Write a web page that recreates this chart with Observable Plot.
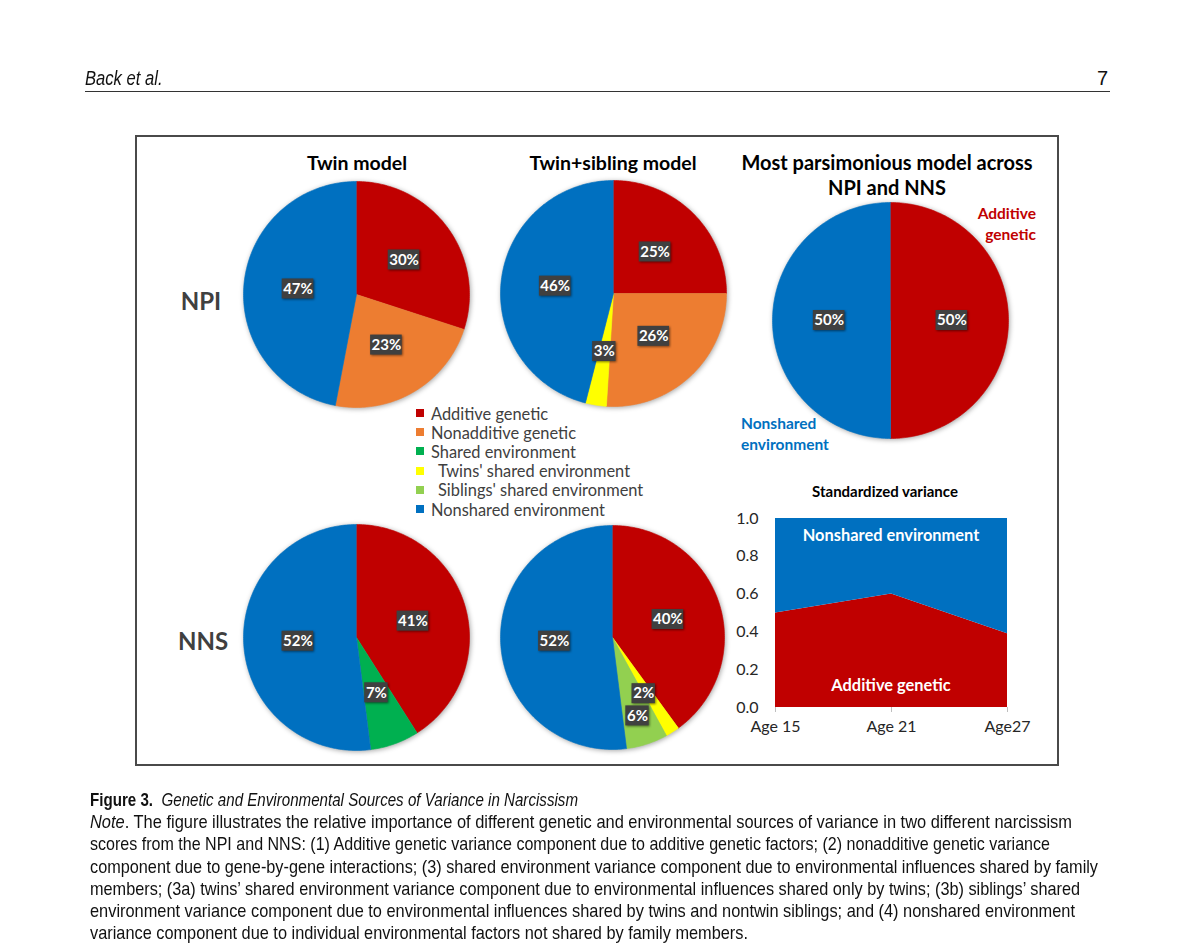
<!DOCTYPE html>
<html><head><meta charset="utf-8">
<script src="https://cdn.jsdelivr.net/npm/d3@7"></script>
<script src="https://cdn.jsdelivr.net/npm/@observablehq/plot@0.6"></script>
<style>
body{margin:0;background:#fff;width:1200px;height:950px;position:relative;overflow:hidden;font-family:Lato,sans-serif;}
.pie g[aria-label="line"]{filter:drop-shadow(1px 1.5px 2.5px rgba(0,0,0,0.35));}
.pie g[aria-label="rect"]{filter:drop-shadow(1px 1px 1px rgba(0,0,0,0.5));}
.area g[aria-label="x-axis tick"] path{stroke:#bfbfbf;}
.cap{position:absolute;left:90px;white-space:nowrap;font-family:"Liberation Sans",sans-serif;font-size:18.5px;line-height:22px;color:#111;transform-origin:0 50%;}
</style></head><body>
<script>
// ---- data ----
const components = ["Additive genetic","Nonadditive genetic","Shared environment","Twins' shared environment","Siblings' shared environment","Nonshared environment"];
const componentColors = ["#C00000","#ED7D31","#00B050","#FFFF00","#92D050","#0070C0"];
const pieTitles = ["Twin model","Twin+sibling model"];
const parsimoniousTitle = ["Most parsimonious model across","NPI and NNS"];
const rowLabels = ["NPI","NNS"];
const npiTwin      = [30,23,0,0,0,47];
const npiTwinSib   = [25,26,0,3,0,46];
const nnsTwin      = [41,0,7,0,0,52];
const nnsTwinSib   = [40,0,0,2,6,52];
const parsimonious = [50,0,0,0,0,50];
const ages = ["Age 15","Age 21","Age27"];
const additiveByAge  = [0.50,0.60,0.39];
const nonsharedByAge = [0.50,0.40,0.61];
const yTicks = [0,0.2,0.4,0.6,0.8,1.0];
const captionLines = [
 "<b>Figure 3.</b>&nbsp; <i>Genetic and Environmental Sources of Variance in Narcissism</i>",
 "<i>Note</i>. The figure illustrates the relative importance of different genetic and environmental sources of variance in two different narcissism",
 "scores from the NPI and NNS: (1) Additive genetic variance component due to additive genetic factors; (2) nonadditive genetic variance",
 "component due to gene-by-gene interactions; (3) shared environment variance component due to environmental influences shared by family",
 "members; (3a) twins’ shared environment variance component due to environmental influences shared only by twins; (3b) siblings’ shared",
 "environment variance component due to environmental influences shared by twins and nontwin siblings; and (4) nonshared environment",
 "variance component due to individual environmental factors not shared by family members."
];
// layout: right edge of each caption line in the page
const captionRight = [578,1072,1050,1098,1080,1075,748];

// ---- helpers ----
function el(tag, css, html){ const e=document.createElement(tag); e.style.cssText="position:absolute;"+css; if(html!=null) e.innerHTML=html; document.body.appendChild(e); return e; }
function label(text,x,y,o={}){
  const size=o.size||16, lh=Math.round(size*1.3), anchor=o.anchor||"middle", w=600;
  const left = anchor==="middle"? x-w/2 : anchor==="end"? x-w : x;
  const align = anchor==="middle"?"center":anchor==="end"?"right":"left";
  return el("div",`left:${left}px;top:${y-lh/2}px;width:${w}px;line-height:${lh}px;font-size:${size}px;text-align:${align};font-weight:${o.weight||"normal"};color:${o.color||"#000"};font-family:${o.font||"Lato"};font-style:${o.style||"normal"};white-space:pre;`, text);
}

// header
el("div","left:85px;top:66px;font-size:20px;line-height:24px;font-style:italic;font-family:'Liberation Sans';color:#111;white-space:nowrap;transform-origin:0 50%;transform:scaleX(0.83);","Back et al.");
label("7",1108,78,{anchor:"end",size:20,font:"'Liberation Sans'",color:"#111"});
el("div","left:85px;top:91px;width:1025px;height:0;border-top:1.5px solid #333;");
// frame
el("div","left:135px;top:135px;width:920px;height:627px;border:2px solid #4a4a4a;");

// ---- pies ----
function pie(values, R, nudges){
  nudges = nudges||{};
  const m = 12, total = d3.sum(values);
  let acc = 0; const pts=[], labels=[];
  values.forEach((v,i)=>{
    if(!v) return;
    const a0=acc/total*2*Math.PI, a1=(acc+v)/total*2*Math.PI; acc+=v;
    const n=Math.max(2,Math.ceil((a1-a0)/(Math.PI/180)));
    pts.push({cat:components[i],x:0,y:0});
    for(let k=0;k<=n;k++){const a=a0+(a1-a0)*k/n; pts.push({cat:components[i],x:Math.sin(a),y:Math.cos(a)});}
    const am=(a0+a1)/2, r=0.52, t=v+"%", nd=nudges[i]||[0,0];
    labels.push({text:t,x:r*Math.sin(am)+nd[0]/R,y:r*Math.cos(am)-nd[1]/R,hw:(t.length*8.2+7)/2/R,hh:10/R});
  });
  return Plot.plot({
    width:2*R+2*m,height:2*R+2*m,margin:m,
    x:{domain:[-1,1],axis:null},y:{domain:[-1,1],axis:null},
    color:{domain:components,range:componentColors},
    style:{background:"none",fontFamily:"Lato"},
    marks:[
      Plot.line(pts,{x:"x",y:"y",z:"cat",fill:"cat",stroke:"cat",strokeWidth:0.6,curve:"linear"}),
      Plot.rect(labels,{x1:d=>d.x-d.hw,x2:d=>d.x+d.hw,y1:d=>d.y-d.hh,y2:d=>d.y+d.hh,fill:"#404040"}),
      Plot.text(labels,{x:"x",y:"y",text:"text",fill:"white",fontWeight:"bold",fontSize:15})
    ]
  });
}
const pies=[
  {values:npiTwin,cx:356,cy:294,R:113},
  {values:npiTwinSib,cx:613,cy:293,R:113},
  {values:nnsTwin,cx:356,cy:637,R:113},
  {values:nnsTwinSib,cx:612,cy:637,R:112,nudges:{3:[0,7],4:[7,23]}},
  {values:parsimonious,cx:890,cy:320,R:118}
];
pies.forEach(p=>{
  const svg=pie(p.values,p.R,p.nudges);
  const wrap=el("div",`left:${p.cx-p.R-12}px;top:${p.cy-p.R-12}px;`);
  wrap.className="pie"; wrap.appendChild(svg);
});

// titles
label(pieTitles[0],357,162,{size:19.5,weight:"bold"});
label(pieTitles[1],613,162,{size:19.5,weight:"bold"});
label(parsimoniousTitle[0],887,162,{size:20,weight:"bold"});
label(parsimoniousTitle[1],887,187,{size:20,weight:"bold"});
label(rowLabels[0],201,300,{size:24,weight:"bold",color:"#404040"});
label(rowLabels[1],203,640,{size:24,weight:"bold",color:"#404040"});
label("Additive",1036,213,{anchor:"end",size:15.5,weight:"bold",color:componentColors[0]});
label("genetic",1036,234,{anchor:"end",size:15.5,weight:"bold",color:componentColors[0]});
label("Nonshared",741,423,{anchor:"start",size:15.5,weight:"bold",color:componentColors[5]});
label("environment",741,444,{anchor:"start",size:15.5,weight:"bold",color:componentColors[5]});

// legend
const legendIndent=[0,0,0,7,7,0];
components.forEach((c,i)=>{
  const y=413+i*19.2;
  el("div",`left:416px;top:${y-4}px;width:8px;height:8px;background:${componentColors[i]};`);
  label(c,431+legendIndent[i],y,{anchor:"start",size:16.4,color:"#404040"});
});

// ---- area chart ----
label("Standardized variance",885,491,{size:15,weight:"bold",color:"#000"});
const areaData = ages.flatMap((a,i)=>[
  {age:a,comp:components[0],v:additiveByAge[i]},
  {age:a,comp:components[5],v:nonsharedByAge[i]}
]);
const area = Plot.plot({
  width:360,height:245,marginLeft:74,marginRight:53,marginTop:13,marginBottom:43,
  x:{type:"point",domain:ages,padding:0,label:null,tickSize:5,tickPadding:8},
  y:{domain:[0,1],ticks:yTicks,tickFormat:".1f",label:null,tickSize:0,tickPadding:16},
  color:{domain:components,range:componentColors},
  style:{background:"none",fontFamily:"Lato",fontSize:"16px",color:"#262626"},
  marks:[
    Plot.areaY(areaData,{x:"age",y:"v",fill:"comp",z:"comp"}),
    Plot.text(["Nonshared environment"],{frameAnchor:"top",dy:11,text:d=>d,fill:"white",fontWeight:"bold",fontSize:16.4}),
    Plot.text(["Additive genetic"],{frameAnchor:"bottom",dy:-17,text:d=>d,fill:"white",fontWeight:"bold",fontSize:16.4})
  ]
});
const aw=el("div","left:700px;top:505px;"); aw.className="area"; aw.appendChild(area);

// caption
captionLines.forEach((t,i)=>{
  const d=el("div",`top:${789+i*22.2}px;`,t); d.className="cap";
  const w=d.getBoundingClientRect().width;
  d.style.transform=`scaleX(${(captionRight[i]-90)/w})`;
});
</script>
</body></html>
